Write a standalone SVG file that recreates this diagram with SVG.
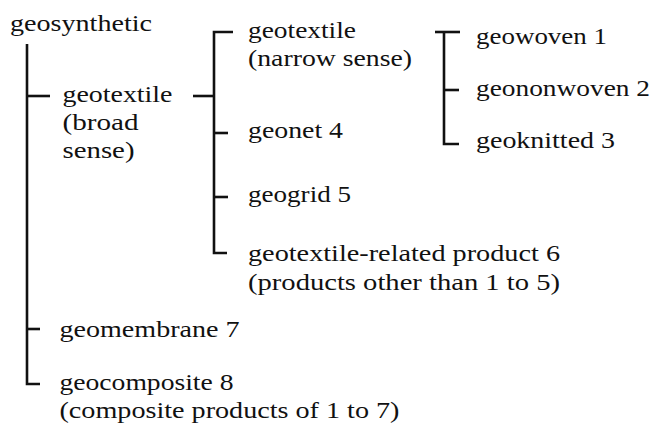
<svg xmlns="http://www.w3.org/2000/svg" width="653" height="425" viewBox="0 0 653 425">
<style>
  .t { font-family: 'Liberation Serif', 'Times New Roman', Times, serif; font-size: 24px; fill: #111; }
  .c { stroke: #111; stroke-width: 2.6; fill: none; stroke-linecap: butt; }
</style>
<rect width="653" height="425" fill="#fff"/>
<g id="connectors">
  <path class="c" d="M27,44 V384 H40"/>
  <path class="c" d="M27,96 H50"/>
  <path class="c" d="M27,329 H40"/>
  <path class="c" d="M193,96 H214"/>
  <path class="c" d="M233,32 H214 V253 H227"/>
  <path class="c" d="M214,133 H228"/>
  <path class="c" d="M214,197 H228"/>
  <path class="c" d="M435,32 H460"/>
  <path class="c" d="M444,32 V144 H459"/>
  <path class="c" d="M444,90 H459"/>
</g>
<g class="t" font-family="Liberation Serif, serif">
<g id="geosynthetic"><text x="10" y="31" textLength="142" lengthAdjust="spacingAndGlyphs">geosynthetic</text></g>
<g id="geotextile-broad">
  <text x="62.5" y="102" textLength="110" lengthAdjust="spacingAndGlyphs">geotextile</text>
  <text x="62.5" y="130" textLength="76" lengthAdjust="spacingAndGlyphs">(broad</text>
  <text x="62.5" y="158" textLength="72" lengthAdjust="spacingAndGlyphs">sense)</text>
</g>
<g id="geotextile-narrow">
  <text x="248" y="38" textLength="108" lengthAdjust="spacingAndGlyphs">geotextile</text>
  <text x="248" y="66" textLength="164" lengthAdjust="spacingAndGlyphs">(narrow sense)</text>
</g>
<g id="geonet"><text x="248" y="138" textLength="95" lengthAdjust="spacingAndGlyphs">geonet 4</text></g>
<g id="geogrid"><text x="248" y="202" textLength="103" lengthAdjust="spacingAndGlyphs">geogrid 5</text></g>
<g id="geotextile-related">
  <text x="248" y="261" textLength="312" lengthAdjust="spacingAndGlyphs">geotextile-related product 6</text>
  <text x="248" y="290" textLength="312" lengthAdjust="spacingAndGlyphs">(products other than 1 to 5)</text>
</g>
<g id="geowoven"><text x="476" y="44" textLength="131" lengthAdjust="spacingAndGlyphs">geowoven 1</text></g>
<g id="geononwoven"><text x="476" y="96" textLength="174" lengthAdjust="spacingAndGlyphs">geononwoven 2</text></g>
<g id="geoknitted"><text x="476" y="148" textLength="139" lengthAdjust="spacingAndGlyphs">geoknitted 3</text></g>
<g id="geomembrane"><text x="59.5" y="337" textLength="180" lengthAdjust="spacingAndGlyphs">geomembrane 7</text></g>
<g id="geocomposite">
  <text x="59.5" y="390" textLength="174" lengthAdjust="spacingAndGlyphs">geocomposite 8</text>
  <text x="59.5" y="418" textLength="340" lengthAdjust="spacingAndGlyphs">(composite products of 1 to 7)</text>
</g>
</g>
</svg>
